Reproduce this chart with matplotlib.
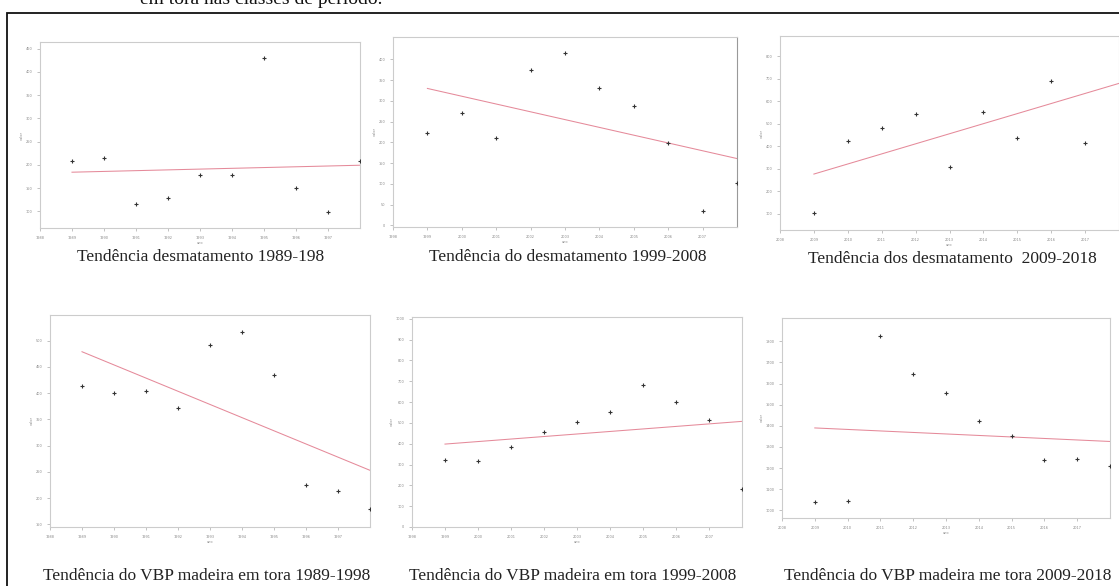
"""
Tendência do desmatamento e do VBP madeira em tora por classe de período.
"""

import matplotlib.pyplot as plt
import numpy as np
from matplotlib.patches import Rectangle

W, H = 1119, 586

# anos de cada classe de período
anos_1989 = [1989, 1990, 1991, 1992, 1993, 1994, 1995, 1996, 1997, 1998]
anos_1999 = [1999, 2000, 2001, 2002, 2003, 2004, 2005, 2006, 2007, 2008]
anos_2009 = [2009, 2010, 2011, 2012, 2013, 2014, 2015, 2016, 2017]

# desmatamento
desm_1989 = [209, 214, 116, 129, 179, 179, 429, 151, 99, 209]
desm_1999 = [222, 270, 210, 374, 416, 330, 287, 199, 34, 103]
desm_2009 = [103, 423, 480, 543, 307, 551, 435, 689, 416]

# VBP madeira em tora
vbp_1989 = [414, 400, 405, 371, 492, 516, 435, 225, 213, 179]
vbp_1999 = [321, 315, 385, 454, 502, 551, 684, 602, 514, 181]
vbp_2009 = [1038, 1043, 1826, 1647, 1555, 1424, 1350, 1240, 1244, 1208]
anos_2009_vbp = [2009, 2010, 2011, 2012, 2013, 2014, 2015, 2016, 2017, 2018]

# linha de tendência (valor no início e no fim)
trend_desm = [(184, 199), (330, 161), (277, 679)]
trend_vbp = [(479, 253), (398, 507), (1390, 1326)]

# limites e ticks do eixo y
ylims = [(64, 464), (-4, 454), (29, 889), (145, 549), (0, 1008), (964, 1910)]
yticks = [
    np.arange(100, 451, 50),
    np.arange(0, 401, 50),
    np.arange(100, 801, 100),
    np.arange(150, 501, 50),
    np.arange(0, 1001, 100),
    np.arange(1000, 1801, 100),
]

titles = [
    "Tendência desmatamento 1989-198",
    "Tendência do desmatamento 1999-2008",
    "Tendência dos desmatamento  2009-2018",
    "Tendência do VBP madeira em tora 1989-1998",
    "Tendência do VBP madeira em tora 1999-2008",
    "Tendência do VBP madeira me tora 2009-2018",
]

# caixas dos eixos em pixels: left, right, top, bottom
boxes = [
    (40, 360, 42, 228),
    (393, 737, 37, 227),
    (780, 1119, 36, 230),
    (50, 370, 315, 527),
    (412, 742, 317, 527),
    (782, 1110, 318, 518),
]
# posição das legendas (centro x, centro y) em pixels
caption_pos = [(201, 257), (568, 257), (952, 259), (207, 576), (573, 576), (948, 576)]

series = [
    (anos_1989, desm_1989, trend_desm[0]),
    (anos_1999, desm_1999, trend_desm[1]),
    (anos_2009, desm_2009, trend_desm[2]),
    (anos_1989, vbp_1989, trend_vbp[0]),
    (anos_1999, vbp_1999, trend_vbp[1]),
    (anos_2009_vbp, vbp_2009, trend_vbp[2]),
]

plt.rcParams["font.family"] = ["DejaVu Sans"]
fig = plt.figure(figsize=(W / 100, H / 100), dpi=100)

for i, ((x, y, tr), box) in enumerate(zip(series, boxes)):
    left, right, top, bottom = box
    ax = fig.add_axes([left / W, 1 - bottom / H, (right - left) / W, (bottom - top) / H])
    x0 = x[0] - 1
    ax.set_xlim(x0, x0 + 10)
    ax.set_ylim(*ylims[i])
    ax.set_xticks(np.arange(x0, x0 + 10))
    ax.set_yticks(yticks[i])
    ax.plot([x[0], x0 + 10], tr, color="#e58a9a", lw=0.75, zorder=2)
    ax.plot(x, y, linestyle="none", marker="+", ms=3.5, mew=0.8, color="#333333", zorder=3)
    ax.tick_params(labelsize=2.5, labelcolor="#888888", color="#aaaaaa", length=2, width=0.5)
    for sp in ax.spines.values():
        sp.set_color("#cccccc")
        sp.set_linewidth(0.8)
    if i == 1:
        ax.spines["right"].set_color("#999999")
    ax.set_xlabel("ano", fontsize=2.5, color="#888888", labelpad=1)
    ax.set_ylabel("valor", fontsize=2.5, color="#888888", labelpad=1)
    cx, cy = caption_pos[i]
    fig.text(cx / W, 1 - cy / H, titles[i], ha="center", va="center",
             fontsize=12.5, family="Liberation Serif", color="#222222")

# moldura do documento e texto cortado no topo
fig.patches.append(Rectangle((7 / W, -0.05), 1.2, (H - 13) / H + 0.05, transform=fig.transFigure,
                             fill=False, edgecolor="#111111", linewidth=1.3))
fig.text(140 / W, 1 - 4 / H, "em tora nas classes de período.", ha="left", va="baseline",
         fontsize=14, family="Liberation Serif", color="#111111")

fig.savefig("out.png", dpi=100)
plt.close(fig)
